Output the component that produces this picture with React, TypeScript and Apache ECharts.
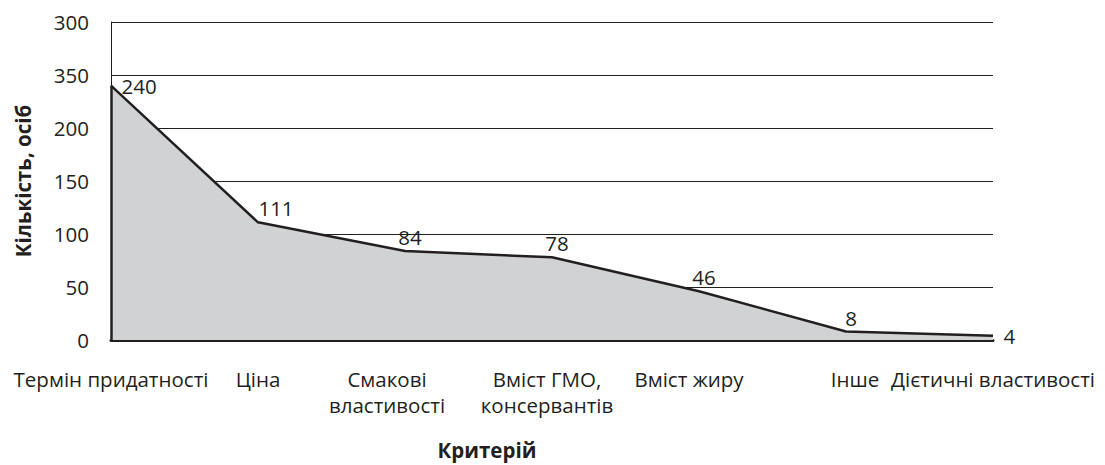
import React, { useEffect, useRef } from "react";
import * as echarts from "echarts";

const categories = [
  "Термін придатності",
  "Ціна",
  "Смакові\nвластивості",
  "Вміст ГМО,\nконсервантів",
  "Вміст жиру",
  "Інше",
  "Дієтичні властивості",
];
const values = [240, 111, 84, 78, 46, 8, 4];
const yTickLabels = ["0", "50", "100", "150", "200", "350", "300"];
const yAxisTitle = "Кількість, осіб";
const xAxisTitle = "Критерій";

const INK = "#231f20";
const FONT = "'Open Sans', 'Noto Sans', sans-serif";
const FS = 20.5;

export default function App() {
  const ref = useRef<HTMLDivElement>(null);

  useEffect(() => {
    if (!ref.current) return;
    const chart = echarts.init(ref.current, null, { renderer: "svg" });

    const labelShift = [0, 0, -36, -10, -20, 18, 0];
    const catData = categories.map((c, i) => ({
      value: c,
      textStyle: {
        padding:
          labelShift[i] < 0
            ? [0, -labelShift[i], 0, 0]
            : [0, 0, 0, labelShift[i]],
      },
    }));

    const last = values.length - 1;
    const seriesData = values.map((v, i) => {
      let label: any = { show: true, position: "top", distance: 3, offset: [5, 0] };
      if (i === 0 || i === last) label = { show: true, position: "right", distance: 10, offset: [0, 0] };
      if (i === 1) label = { show: true, position: "top", distance: 3, offset: [18, 0] };
      return { value: v, label };
    });

    chart.setOption({
      animation: false,
      textStyle: { fontFamily: FONT },
      grid: { left: 111, right: 112, top: 22, bottom: 121, containLabel: false },
      xAxis: {
        type: "category",
        boundaryGap: false,
        data: catData,
        axisLine: { show: true, lineStyle: { color: INK, width: 3 } },
        axisTick: { show: false },
        axisLabel: {
          interval: 0,
          margin: 26,
          fontSize: FS,
          lineHeight: 26,
          color: INK,
          fontFamily: FONT,
        },
        splitLine: { show: false },
        name: xAxisTitle,
        nameLocation: "middle",
        nameGap: 99,
        nameTextStyle: {
          fontSize: FS,
          fontWeight: "bold",
          color: INK,
          fontFamily: FONT,
          padding: [0, 130, 0, 0],
        },
      },
      yAxis: {
        type: "value",
        min: 0,
        max: 300,
        interval: 50,
        axisLine: { show: true, lineStyle: { color: INK, width: 1 } },
        axisTick: { show: false },
        axisLabel: {
          margin: 22,
          fontSize: FS,
          color: INK,
          fontFamily: FONT,
          formatter: (v: number) => yTickLabels[Math.round(v / 50)] ?? String(v),
        },
        splitLine: { show: true, lineStyle: { color: INK, width: 1 } },
        name: yAxisTitle,
        nameLocation: "middle",
        nameGap: 78,
        nameTextStyle: {
          fontSize: FS,
          fontWeight: "bold",
          color: INK,
          fontFamily: FONT,
        },
      },
      series: [
        {
          type: "line",
          data: seriesData,
          symbol: "circle",
          symbolSize: 1,
          showSymbol: true,
          itemStyle: { color: "rgba(0,0,0,0)" },
          smooth: false,
          lineStyle: { color: INK, width: 2.5 },
          areaStyle: { color: "#d1d2d4", opacity: 1 },
          label: {
            show: true,
            fontSize: FS,
            color: INK,
            fontFamily: FONT,
          },
          markLine: {
            silent: true,
            symbol: ["none", "none"],
            label: { show: false },
            lineStyle: { color: INK, width: 2.5, type: "solid" },
            data: [[{ coord: [0, 0] }, { coord: [0, values[0]] }]],
          },
        },
      ],
    });

    return () => chart.dispose();
  }, []);

  return (
    <div
      ref={ref}
      style={{ position: "fixed", left: 0, top: 0, width: 1105, height: 465, background: "#fff" }}
    />
  );
}
